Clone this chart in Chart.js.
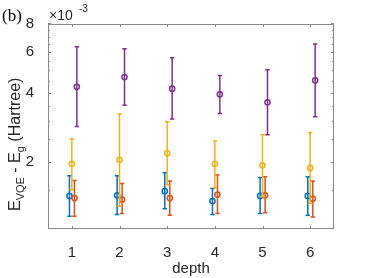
<!DOCTYPE html>
<html>
<head>
<meta charset="utf-8">
<script src="https://cdn.jsdelivr.net/npm/chart.js@4/dist/chart.umd.min.js"></script>
<style>
    html, body { margin: 0; padding: 0; background: #fff; }
    #wrap { width: 370px; height: 278px; }
</style>
</head>
<body>
<div id="wrap"><canvas id="c"></canvas></div>
<script>
// values in units of 1e-3 Hartree
const depths = [1, 2, 3, 4, 5, 6];
const yTicks = [2, 4, 6, 8];
const yMinorTicks = [1.5, 2.5, 3, 3.5, 4.5, 5, 5.5, 6.5, 7, 7.5];

const blueMean = [1.42, 1.43, 1.49, 1.35, 1.42, 1.42];
const blueHi   = [1.74, 1.74, 1.79, 1.53, 1.71, 1.72];
const blueLo   = [1.16, 1.18, 1.25, 1.18, 1.19, 1.17];

const orangeMean = [1.39, 1.37, 1.39, 1.44, 1.43, 1.38];
const orangeHi   = [1.66, 1.61, 1.65, 1.75, 1.72, 1.65];
const orangeLo   = [1.16, 1.19, 1.17, 1.19, 1.20, 1.15];

const yellowMean = [1.96, 2.04, 2.18, 1.96, 1.93, 1.88];
const yellowHi   = [2.51, 3.23, 2.99, 2.46, 2.62, 2.68];
const yellowLo   = [1.51, 1.28, 1.59, 1.54, 1.41, 1.32];

const purpleMean = [4.24, 4.67, 4.16, 3.93, 3.63, 4.52];
const purpleHi   = [6.33, 6.20, 5.67, 4.75, 5.03, 6.50];
const purpleLo   = [2.85, 3.52, 3.07, 3.24, 2.62, 3.14];

const FONT = '"Liberation Sans", Arial, sans-serif';
const TEXT = '#262626';
const AXIS = '#8a8a8a';

function makeSet(color, mean, hi, lo, shift, order) {
    return {
        data: depths.map((d, i) => ({ x: d + shift, y: mean[i], hi: hi[i], lo: lo[i] })),
        borderColor: color,
        backgroundColor: 'transparent',
        pointRadius: 2.6,
        pointBorderWidth: 1.5,
        showLine: false,
        order: order
    };
}

const datasets = [
    makeSet('#0072BD', blueMean, blueHi, blueLo, -0.05, 3),
    makeSet('#D95319', orangeMean, orangeHi, orangeLo, 0.055, 2),
    makeSet('#EDB120', yellowMean, yellowHi, yellowLo, 0, 1),
    makeSet('#7E2F8E', purpleMean, purpleHi, purpleLo, 0.105, 0)
];

// error bars, box, inward ticks and the extra labels
const decor = {
    id: 'decor',
    beforeDatasetDraw(chart, args) {
        const ctx = chart.ctx;
        const ds = chart.data.datasets[args.index];
        const xs = chart.scales.x, ys = chart.scales.y;
        ctx.save();
        ctx.strokeStyle = ds.borderColor;
        ctx.lineWidth = 1.5;
        ds.data.forEach(p => {
            const px = xs.getPixelForValue(p.x);
            const top = ys.getPixelForValue(p.hi);
            const bot = ys.getPixelForValue(p.lo);
            ctx.beginPath();
            ctx.moveTo(px, top); ctx.lineTo(px, bot);
            ctx.moveTo(px - 2.2, top); ctx.lineTo(px + 2.2, top);
            ctx.moveTo(px - 2.2, bot); ctx.lineTo(px + 2.2, bot);
            ctx.stroke();
        });
        ctx.restore();
    },
    afterDraw(chart) {
        const ctx = chart.ctx;
        const a = chart.chartArea;
        const xs = chart.scales.x, ys = chart.scales.y;
        ctx.save();
        ctx.strokeStyle = AXIS;
        ctx.lineWidth = 1;
        ctx.strokeRect(Math.round(a.left) + 0.5, Math.round(a.top) + 0.5,
            Math.round(a.right - a.left) - 1, Math.round(a.bottom - a.top) - 1);
        ctx.beginPath();
        depths.forEach(d => {
            const px = Math.round(xs.getPixelForValue(d)) + 0.5;
            ctx.moveTo(px, a.bottom); ctx.lineTo(px, a.bottom - 3);
            ctx.moveTo(px, a.top); ctx.lineTo(px, a.top + 3);
        });
        yTicks.forEach(v => {
            const py = Math.round(ys.getPixelForValue(v)) + 0.5;
            ctx.moveTo(a.left, py); ctx.lineTo(a.left + 3, py);
            ctx.moveTo(a.right, py); ctx.lineTo(a.right - 3, py);
        });
        yMinorTicks.forEach(v => {
            const py = Math.round(ys.getPixelForValue(v)) + 0.5;
            ctx.moveTo(a.left, py); ctx.lineTo(a.left + 2, py);
            ctx.moveTo(a.right, py); ctx.lineTo(a.right - 2, py);
        });
        ctx.stroke();

        // panel label
        ctx.fillStyle = '#000';
        ctx.font = '17px "Liberation Serif", "Times New Roman", serif';
        ctx.textBaseline = 'alphabetic';
        ctx.fillText('(b)', 2, 21);

        // exponent
        ctx.fillStyle = TEXT;
        ctx.font = '14px ' + FONT;
        ctx.fillText('\u00d710', 49, 20);
        ctx.font = '10px ' + FONT;
        ctx.fillText('-3', 79, 12);

        // y title with subscripts, rotated
        ctx.translate(20, 211);
        ctx.rotate(-Math.PI / 2);
        const parts = [
            ['E', 16, 0], ['VQE', 11, 4], [' - ', 16, 0], ['E', 16, 0], ['g', 11, 4], [' (Hartree)', 16, 0]
        ];
        let x = 0;
        parts.forEach(([t, s, dy]) => {
            ctx.font = s + 'px ' + FONT;
            ctx.fillText(t, x, dy);
            x += ctx.measureText(t).width;
        });
        ctx.restore();
    }
};

new Chart(document.getElementById('c'), {
    type: 'scatter',
    data: { datasets },
    options: {
        responsive: true,
        maintainAspectRatio: false,
        animation: false,
        layout: { padding: { left: 0, top: 24, right: 36, bottom: 0 } },
        plugins: { legend: { display: false }, tooltip: { enabled: false } },
        scales: {
            x: {
                type: 'linear',
                min: 0.5,
                max: 6.5,
                afterBuildTicks: s => { s.ticks = depths.map(v => ({ value: v })); },
                afterFit: s => { s.height = 49; },
                grid: { display: false },
                border: { display: false },
                ticks: { color: TEXT, font: { family: FONT, size: 15 }, padding: 7, maxRotation: 0 },
                title: { display: true, text: 'depth', color: TEXT, font: { family: FONT, size: 15 }, padding: { top: 0, bottom: 0 } }
            },
            y: {
                type: 'logarithmic',
                min: 1.02,
                max: 7.95,
                afterBuildTicks: s => { s.ticks = yTicks.map(v => ({ value: v })); },
                afterFit: s => { s.width = 48; },
                grid: { display: false },
                border: { display: false },
                ticks: { color: TEXT, font: { family: FONT, size: 15 }, padding: 6, callback: v => String(v) }
            }
        }
    },
    plugins: [decor]
});
</script>
</body>
</html>
